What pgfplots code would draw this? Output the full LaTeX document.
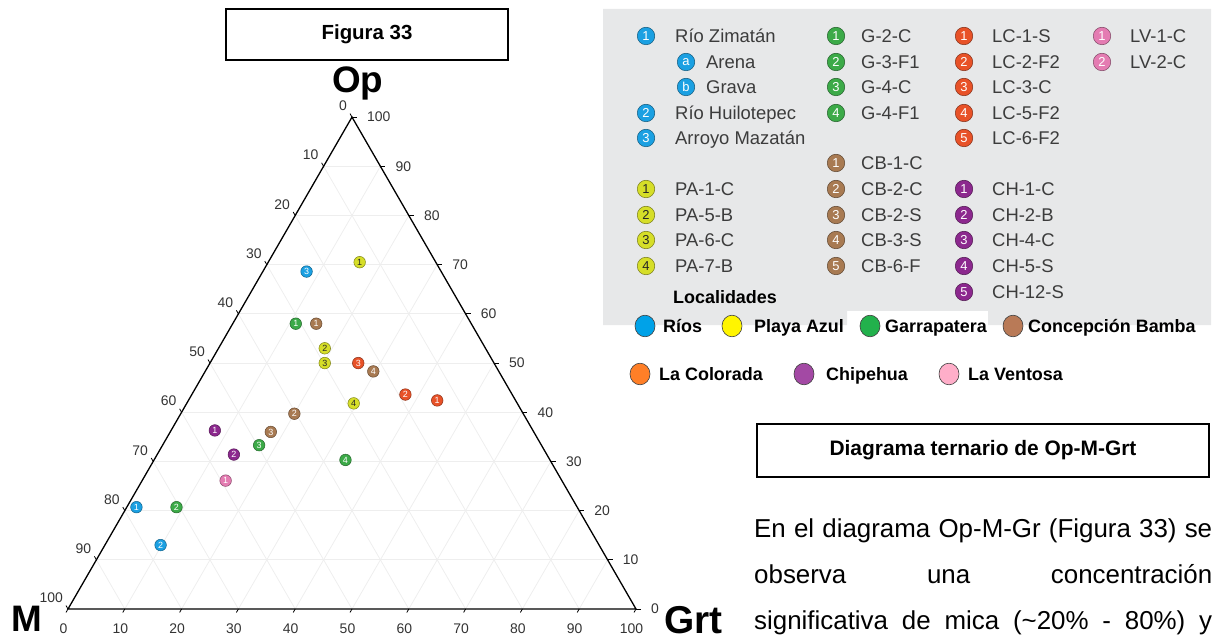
\documentclass[border=0pt]{standalone}
\usepackage{fontspec}
\setmainfont{Liberation Sans}
\usepackage{pgfplots}
\usepackage{pgfplotstable}
\pgfplotsset{compat=1.18}
\usetikzlibrary{calc}

\definecolor{cBlue}{RGB}{27,160,226}
\definecolor{cYel}{RGB}{214,222,40}
\definecolor{cGrn}{RGB}{60,170,72}
\definecolor{cBrn}{RGB}{168,122,82}
\definecolor{cRed}{RGB}{232,82,40}
\definecolor{cPur}{RGB}{140,40,142}
\definecolor{cPnk}{RGB}{228,124,178}
\definecolor{pBlue}{RGB}{0,162,232}
\definecolor{pYel}{RGB}{255,245,0}
\definecolor{pGrn}{RGB}{34,177,76}
\definecolor{pBrn}{RGB}{185,122,87}
\definecolor{pOrg}{RGB}{255,127,39}
\definecolor{pPur}{RGB}{163,73,164}
\definecolor{pPnk}{RGB}{255,174,201}
\definecolor{panel}{RGB}{231,232,233}
\definecolor{gridc}{RGB}{238,238,238}
\definecolor{tickc}{RGB}{51,51,51}
\definecolor{legtext}{RGB}{60,60,60}

\newcommand\fs[1]{\fontsize{#1}{#1}\selectfont}
\newcommand\lnum[5]{\node[circle, fill=#3, draw=#3!55!black, line width=0.5bp, minimum size=17.5bp, inner sep=0pt, text=#4, font=\fs{13}] at (#1,-#2) {#5};}
\newcommand\ltxt[3]{\node[anchor=base west, inner sep=0pt, text=legtext, font=\fs{18.5}] at (#1,-#2-6.6) {#3};}
\newcommand\lbig[4]{\draw[fill=#3, draw=black!75, line width=0.6bp] (#1,-#2) ellipse [x radius=10bp, y radius=10.8bp];}
\newcommand\lbl[3]{\node[anchor=base west, inner sep=0pt, font=\fs{18}\bfseries] at (#1,-#2-6.5) {#3};}

\pgfplotsset{tern/.style 2 args={only marks, mark=*, mark size=5.8bp,
  mark options={fill=#1, draw=#1!60!black, line width=0.5bp},
  nodes near coords, point meta=explicit symbolic, nodes near coords align=center,
  every node near coord/.append style={font=\fs{9}, text=#2, inner sep=0pt}}}

% columns: g = Grt %, o = Op %, n = sample number
\pgfplotstableread{
g o n
1.7 20.7 1
9.8 13.0 2
7.7 68.6 3
}\rios
\pgfplotstableread{
g o n
16.1 70.5 1
18.7 53.0 2
20.2 50.0 3
29.4 41.8 4
}\playa
\pgfplotstableread{
g o n
11.1 58.0 1
8.75 20.7 2
17.0 33.3 3
33.7 30.3 4
}\garra
\pgfplotstableread{
g o n
14.7 58.0 1
20.0 39.7 2
17.7 36.0 3
29.6 48.3 4
}\concep
\pgfplotstableread{
g o n
43.8 42.4 1
37.6 43.6 2
26.1 50.0 3
}\colorada
\pgfplotstableread{
g o n
7.7 36.3 1
13.5 31.4 2
}\chipe
\pgfplotstableread{
g o n
14.7 26.1 1
}\ventosa

\begin{document}
\begin{tikzpicture}
\begin{scope}[x=1bp,y=1bp]
\useasboundingbox (0,0) rectangle (1219,-636);
\fill[panel] (603,-9) -- (1211,-9) -- (1211,-325) -- (988,-325) -- (988,-311) -- (847,-311) -- (847,-325) -- (603,-325) -- cycle;
\coordinate (A) at (68,-609);
\coordinate (B) at (636,-609);
\coordinate (C) at (352,-117.1);
\foreach \i in {1,...,9}{%
  \pgfmathsetmacro\t{\i/10}
  \draw[gridc, line width=0.8bp] ($(A)!\t!(C)$) -- ($(B)!\t!(C)$);
  \draw[gridc, line width=0.8bp] ($(A)!\t!(B)$) -- ($(C)!\t!(B)$);
  \draw[gridc, line width=0.8bp] ($(B)!\t!(A)$) -- ($(C)!\t!(A)$);
}
\draw[line width=1.3bp] (A) -- (B) -- (C) -- cycle;
\foreach \i in {0,...,10}{%
  \pgfmathsetmacro\t{\i/10}
  \pgfmathtruncatemacro\lab{10*\i}
  \draw[line width=0.8bp] ($(A)!\t!(B)$) -- ++(240:4bp);
  \node[anchor=north, inner sep=0pt, text=tickc, font=\fs{14}] at ($(A)!\t!(B)+(-4.5,-15)$) {\lab};
  \draw[line width=0.8bp] ($(C)!\t!(A)$) -- ++(120:4bp);
  \node[anchor=south east, inner sep=0pt, text=tickc, font=\fs{14}] at ($(C)!\t!(A)+(-5,6)$) {\lab};
  \draw[line width=0.8bp] ($(B)!\t!(C)$) -- ++(0:5bp);
  \node[anchor=west, inner sep=0pt, text=tickc, font=\fs{14}] at ($(B)!\t!(C)+(15,0)$) {\lab};
}
\node[anchor=base west, inner sep=0pt, font=\fs{37}\bfseries] at (332,-93) {Op};
\node[anchor=base west, inner sep=0pt, font=\fs{37}\bfseries] at (11,-631) {M};
\node[anchor=base west, inner sep=0pt, font=\fs{39}\bfseries] at (664,-633) {Grt};
\draw[line width=1.6bp] (226,-9) rectangle (508,-60);
\node[font=\fs{20.5}\bfseries] at (367,-34) {Figura 33};
\end{scope}

\begin{axis}[at={(68bp,-609bp)}, anchor=south west, width=568bp, height=491.9bp,
  scale only axis, xmin=0, xmax=100, ymin=0, ymax=86.6025, hide axis, clip=false]
\addplot[tern={cBlue}{white}] table[x expr=\thisrow{g}+0.5*\thisrow{o}, y expr=0.866025*\thisrow{o}, meta=n] {\rios};
\addplot[tern={cYel}{black!85}] table[x expr=\thisrow{g}+0.5*\thisrow{o}, y expr=0.866025*\thisrow{o}, meta=n] {\playa};
\addplot[tern={cGrn}{white}] table[x expr=\thisrow{g}+0.5*\thisrow{o}, y expr=0.866025*\thisrow{o}, meta=n] {\garra};
\addplot[tern={cBrn}{white}] table[x expr=\thisrow{g}+0.5*\thisrow{o}, y expr=0.866025*\thisrow{o}, meta=n] {\concep};
\addplot[tern={cRed}{white}] table[x expr=\thisrow{g}+0.5*\thisrow{o}, y expr=0.866025*\thisrow{o}, meta=n] {\colorada};
\addplot[tern={cPur}{white}] table[x expr=\thisrow{g}+0.5*\thisrow{o}, y expr=0.866025*\thisrow{o}, meta=n] {\chipe};
\addplot[tern={cPnk}{white}] table[x expr=\thisrow{g}+0.5*\thisrow{o}, y expr=0.866025*\thisrow{o}, meta=n] {\ventosa};
\end{axis}

\begin{scope}[x=1bp,y=1bp]
% column 1
\lnum{646}{36}{cBlue}{white}{1}\ltxt{675}{36}{Río Zimatán}
\lnum{686}{62}{cBlue}{white}{a}\ltxt{706}{62}{Arena}
\lnum{686}{87}{cBlue}{white}{b}\ltxt{706}{87}{Grava}
\lnum{646}{113}{cBlue}{white}{2}\ltxt{675}{113}{Río Huilotepec}
\lnum{646}{138}{cBlue}{white}{3}\ltxt{675}{138}{Arroyo Mazatán}
\lnum{646}{189}{cYel}{black!85}{1}\ltxt{675}{189}{PA-1-C}
\lnum{646}{215}{cYel}{black!85}{2}\ltxt{675}{215}{PA-5-B}
\lnum{646}{240}{cYel}{black!85}{3}\ltxt{675}{240}{PA-6-C}
\lnum{646}{266}{cYel}{black!85}{4}\ltxt{675}{266}{PA-7-B}
\lbl{673}{297}{Localidades}
% column 2
\lnum{836}{36}{cGrn}{white}{1}\ltxt{861}{36}{G-2-C}
\lnum{836}{62}{cGrn}{white}{2}\ltxt{861}{62}{G-3-F1}
\lnum{836}{87}{cGrn}{white}{3}\ltxt{861}{87}{G-4-C}
\lnum{836}{113}{cGrn}{white}{4}\ltxt{861}{113}{G-4-F1}
\lnum{836}{163}{cBrn}{white}{1}\ltxt{861}{163}{CB-1-C}
\lnum{836}{189}{cBrn}{white}{2}\ltxt{861}{189}{CB-2-C}
\lnum{836}{215}{cBrn}{white}{3}\ltxt{861}{215}{CB-2-S}
\lnum{836}{240}{cBrn}{white}{4}\ltxt{861}{240}{CB-3-S}
\lnum{836}{266}{cBrn}{white}{5}\ltxt{861}{266}{CB-6-F}
% column 3
\lnum{964}{36}{cRed}{white}{1}\ltxt{992}{36}{LC-1-S}
\lnum{964}{62}{cRed}{white}{2}\ltxt{992}{62}{LC-2-F2}
\lnum{964}{87}{cRed}{white}{3}\ltxt{992}{87}{LC-3-C}
\lnum{964}{113}{cRed}{white}{4}\ltxt{992}{113}{LC-5-F2}
\lnum{964}{138}{cRed}{white}{5}\ltxt{992}{138}{LC-6-F2}
\lnum{964}{189}{cPur}{white}{1}\ltxt{992}{189}{CH-1-C}
\lnum{964}{215}{cPur}{white}{2}\ltxt{992}{215}{CH-2-B}
\lnum{964}{240}{cPur}{white}{3}\ltxt{992}{240}{CH-4-C}
\lnum{964}{266}{cPur}{white}{4}\ltxt{992}{266}{CH-5-S}
\lnum{964}{292}{cPur}{white}{5}\ltxt{992}{292}{CH-12-S}
% column 4
\lnum{1102}{36}{cPnk}{white}{1}\ltxt{1130}{36}{LV-1-C}
\lnum{1102}{62}{cPnk}{white}{2}\ltxt{1130}{62}{LV-2-C}
% localities
\lbig{645}{326}{pBlue}{}\lbl{663}{326}{Ríos}
\lbig{732}{326}{pYel}{}\lbl{754}{326}{Playa Azul}
\lbig{870}{326}{pGrn}{}\lbl{885}{326}{Garrapatera}
\lbig{1013}{326}{pBrn}{}\lbl{1028}{326}{Concepción Bamba}
\lbig{640}{374}{pOrg}{}\lbl{659}{374}{La Colorada}
\lbig{804}{374}{pPur}{}\lbl{826}{374}{Chipehua}
\lbig{949}{374}{pPnk}{}\lbl{968}{374}{La Ventosa}
% title box
\draw[line width=1.3bp] (757,-424) rectangle (1209,-477);
\node[font=\fs{21}\bfseries] at (983,-450) {Diagrama ternario de Op-M-Grt};
% paragraph
\node[anchor=base west, inner sep=0pt, font=\fs{26}] at (754,-537) {\makebox[458bp][s]{En el diagrama Op-M-Gr (Figura 33) se}};
\node[anchor=base west, inner sep=0pt, font=\fs{26}] at (754,-583) {\makebox[458bp][s]{observa una concentración}};
\node[anchor=base west, inner sep=0pt, font=\fs{26}] at (754,-629) {\makebox[458bp][s]{significativa de mica (\textasciitilde 20\% - 80\%) y}};
\end{scope}
\end{tikzpicture}
\end{document}
